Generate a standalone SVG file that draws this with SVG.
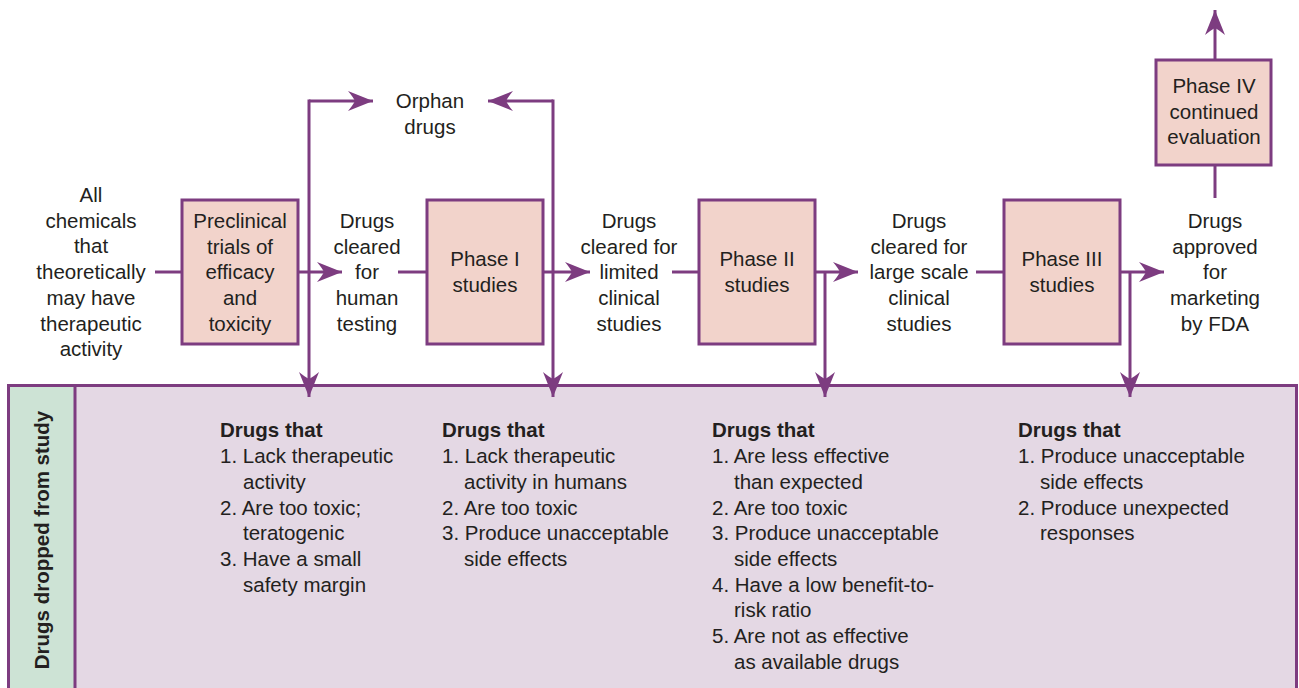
<svg xmlns="http://www.w3.org/2000/svg" width="1299" height="688" viewBox="0 0 1299 688">
<style>
.t{font-family:"Liberation Sans",Arial,sans-serif;font-size:20.5px;fill:#231f20}
.c{text-anchor:middle}
.b{font-weight:bold}
.box{fill:#f2d3cb;stroke:#7d3c80;stroke-width:3}
.ln{fill:none;stroke:#7d3c80;stroke-width:3}
.ar{marker-end:url(#ah)}
</style>
<defs>
<marker id="ah" markerUnits="userSpaceOnUse" markerWidth="30" markerHeight="24" viewBox="-26 -12 28 24" refX="0" refY="0" orient="auto">
<path d="M0,0 L-25,-10 Q-20,-4 -18,0 Q-20,4 -25,10 Z" fill="#7d3c80"/>
</marker>
</defs>
<rect width="1299" height="688" fill="#fff"/>

<g id="dropped">
<rect x="8.5" y="385.5" width="1288" height="330" fill="#e4d8e4" stroke="#7d3c80" stroke-width="3"/>
<rect x="8.5" y="385.5" width="66.5" height="330" fill="#cde3d5" stroke="#7d3c80" stroke-width="3"/>
<text class="t b c" transform="translate(49,540) rotate(-90)">Drugs dropped from study</text>
</g>

<g id="connectors">
<line class="ln" x1="155" y1="272" x2="182" y2="272"/>
<line class="ln ar" x1="298" y1="272" x2="342" y2="272"/>
<line class="ln" x1="398" y1="272" x2="427" y2="272"/>
<line class="ln ar" x1="543" y1="272" x2="590" y2="272"/>
<line class="ln" x1="672" y1="272" x2="699" y2="272"/>
<line class="ln ar" x1="815" y1="272" x2="858" y2="272"/>
<line class="ln" x1="976" y1="272" x2="1004" y2="272"/>
<line class="ln ar" x1="1120" y1="272" x2="1164" y2="272"/>
<line class="ln" x1="1215" y1="198" x2="1215" y2="165"/>
<line class="ln ar" x1="1215" y1="60" x2="1215" y2="10"/>
<path class="ln ar" d="M309,101 L373,101"/>
<path class="ln ar" d="M309,99.5 L309,397"/>
<path class="ln ar" d="M553,101 L488,101"/>
<path class="ln ar" d="M553,99.5 L553,397"/>
<line class="ln ar" x1="825" y1="272" x2="825" y2="397"/>
<line class="ln ar" x1="1130" y1="272" x2="1130" y2="397"/>
</g>

<g id="all-chemicals">
<text class="t c" x="91" y="202">All</text>
<text class="t c" x="91" y="227.5">chemicals</text>
<text class="t c" x="91" y="253">that</text>
<text class="t c" x="91" y="279">theoretically</text>
<text class="t c" x="91" y="305">may have</text>
<text class="t c" x="91" y="330.5">therapeutic</text>
<text class="t c" x="91" y="356">activity</text>
</g>

<g id="preclinical">
<rect class="box" x="182" y="200" width="116" height="144"/>
<text class="t c" x="240" y="228">Preclinical</text>
<text class="t c" x="240" y="253.5">trials of</text>
<text class="t c" x="240" y="279">efficacy</text>
<text class="t c" x="240" y="305">and</text>
<text class="t c" x="240" y="331">toxicity</text>
</g>

<g id="cleared-human">
<text class="t c" x="367" y="228">Drugs</text>
<text class="t c" x="367" y="253.5">cleared</text>
<text class="t c" x="367" y="279">for</text>
<text class="t c" x="367" y="305">human</text>
<text class="t c" x="367" y="331">testing</text>
</g>

<g id="phase1">
<rect class="box" x="427" y="200" width="116" height="144"/>
<text class="t c" x="485" y="266">Phase I</text>
<text class="t c" x="485" y="292">studies</text>
</g>

<g id="orphan">
<text class="t c" x="430" y="108">Orphan</text>
<text class="t c" x="430" y="134">drugs</text>
</g>

<g id="cleared-limited">
<text class="t c" x="629" y="228">Drugs</text>
<text class="t c" x="629" y="253.5">cleared for</text>
<text class="t c" x="629" y="279">limited</text>
<text class="t c" x="629" y="305">clinical</text>
<text class="t c" x="629" y="331">studies</text>
</g>

<g id="phase2">
<rect class="box" x="699" y="200" width="116" height="144"/>
<text class="t c" x="757" y="266">Phase II</text>
<text class="t c" x="757" y="292">studies</text>
</g>

<g id="cleared-large">
<text class="t c" x="919" y="228">Drugs</text>
<text class="t c" x="919" y="253.5">cleared for</text>
<text class="t c" x="919" y="279">large scale</text>
<text class="t c" x="919" y="305">clinical</text>
<text class="t c" x="919" y="331">studies</text>
</g>

<g id="phase3">
<rect class="box" x="1004" y="200" width="116" height="144"/>
<text class="t c" x="1062" y="266">Phase III</text>
<text class="t c" x="1062" y="292">studies</text>
</g>

<g id="approved">
<text class="t c" x="1215" y="228">Drugs</text>
<text class="t c" x="1215" y="253.5">approved</text>
<text class="t c" x="1215" y="279">for</text>
<text class="t c" x="1215" y="305">marketing</text>
<text class="t c" x="1215" y="331">by FDA</text>
</g>

<g id="phase4">
<rect class="box" x="1156" y="60" width="115" height="105"/>
<text class="t c" x="1214" y="93">Phase IV</text>
<text class="t c" x="1214" y="118.5">continued</text>
<text class="t c" x="1214" y="144">evaluation</text>
</g>

<g id="list1">
<text class="t b" x="220" y="437">Drugs that</text>
<text class="t" x="220" y="463">1. Lack therapeutic</text>
<text class="t" x="243" y="488.5">activity</text>
<text class="t" x="220" y="514.5">2. Are too toxic;</text>
<text class="t" x="243" y="540">teratogenic</text>
<text class="t" x="220" y="566">3. Have a small</text>
<text class="t" x="243" y="591.5">safety margin</text>
</g>

<g id="list2">
<text class="t b" x="442" y="437">Drugs that</text>
<text class="t" x="442" y="463">1. Lack therapeutic</text>
<text class="t" x="464" y="488.5">activity in humans</text>
<text class="t" x="442" y="514.5">2. Are too toxic</text>
<text class="t" x="442" y="540">3. Produce unacceptable</text>
<text class="t" x="464" y="566">side effects</text>
</g>

<g id="list3">
<text class="t b" x="712" y="437">Drugs that</text>
<text class="t" x="712" y="463">1. Are less effective</text>
<text class="t" x="734" y="488.5">than expected</text>
<text class="t" x="712" y="514.5">2. Are too toxic</text>
<text class="t" x="712" y="540">3. Produce unacceptable</text>
<text class="t" x="734" y="566">side effects</text>
<text class="t" x="712" y="591.5">4. Have a low benefit-to-</text>
<text class="t" x="734" y="617">risk ratio</text>
<text class="t" x="712" y="643">5. Are not as effective</text>
<text class="t" x="734" y="668.5">as available drugs</text>
</g>

<g id="list4">
<text class="t b" x="1018" y="437">Drugs that</text>
<text class="t" x="1018" y="463">1. Produce unacceptable</text>
<text class="t" x="1040" y="488.5">side effects</text>
<text class="t" x="1018" y="514.5">2. Produce unexpected</text>
<text class="t" x="1040" y="540">responses</text>
</g>
</svg>
